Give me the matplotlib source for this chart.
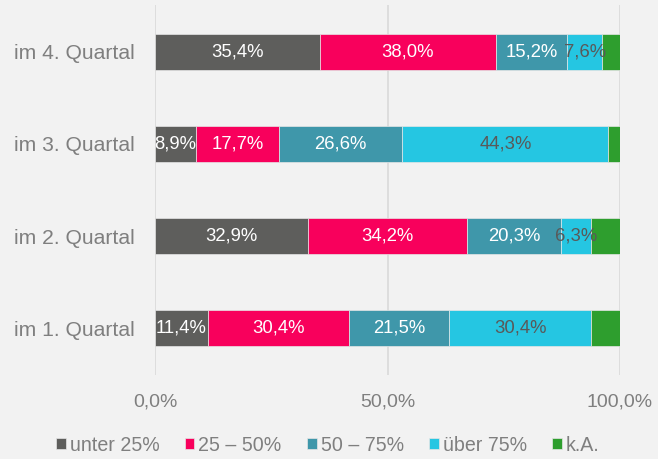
import numpy as np
import matplotlib.pyplot as plt

plt.rcParams['font.family'] = ['Liberation Sans', 'DejaVu Sans']

quarters = ["im 1. Quartal", "im 2. Quartal", "im 3. Quartal", "im 4. Quartal"]
series_names = ["unter 25%", "25 – 50%", "50 – 75%", "über 75%", "k.A."]
unter25 = [11.4, 32.9, 8.9, 35.4]
p25_50 = [30.4, 34.2, 17.7, 38.0]
p50_75 = [21.5, 20.3, 26.6, 15.2]
ueber75 = [30.4, 6.3, 44.3, 7.6]
ka = [6.3, 6.3, 2.5, 3.8]

colors = ["#5e5e5c", "#f8005c", "#3f97aa", "#25c6e2", "#2e9e2e"]
text_colors = ["white", "white", "white", "#595959", None]

fig = plt.figure(figsize=(6.58, 4.59), dpi=100, facecolor="#f2f2f2")
ax = fig.add_axes([155 / 658, 84 / 459, 465 / 658, 370 / 459])
ax.set_facecolor("#f2f2f2")

y = np.arange(len(quarters))
left = np.zeros(len(quarters))
for vals, name, col, tcol in zip([unter25, p25_50, p50_75, ueber75, ka],
                                 series_names, colors, text_colors):
    vals = np.array(vals)
    ax.barh(y, vals, left=left, height=0.4, color=col, label=name,
            edgecolor="#e6e6e6", linewidth=0.5, zorder=3)
    if tcol is not None:
        for yi, l, v in zip(y, left, vals):
            ax.text(l + v / 2, yi, f"{v:.1f}%".replace(".", ","),
                    ha="center", va="center", color=tcol, fontsize=13.3, zorder=4)
    left += vals

ax.set_xlim(0, 100)
ax.set_ylim(-0.51, 3.51)
ax.set_yticks(y)
ax.set_yticklabels(quarters, fontsize=15.2, color="#7f7f7f")
ax.set_xticks([0, 50, 100])
ax.set_xticklabels(["0,0%", "50,0%", "100,0%"], fontsize=14, color="#7f7f7f")
ax.tick_params(axis="x", length=0, pad=13.5)
ax.tick_params(axis="y", length=0, pad=14.4)
ax.grid(axis="x", color="#d9d9d9", linewidth=1.2, zorder=0)
for s in ax.spines.values():
    s.set_visible(False)

fig.legend(loc="center", bbox_to_anchor=(0.498, 0.03), ncol=5, frameon=False,
           fontsize=14.1, labelcolor="#7f7f7f", handlelength=0.51, handleheight=0.51,
           handletextpad=0.2, columnspacing=1.28)

fig.savefig("out.png", dpi=100, facecolor=fig.get_facecolor())
